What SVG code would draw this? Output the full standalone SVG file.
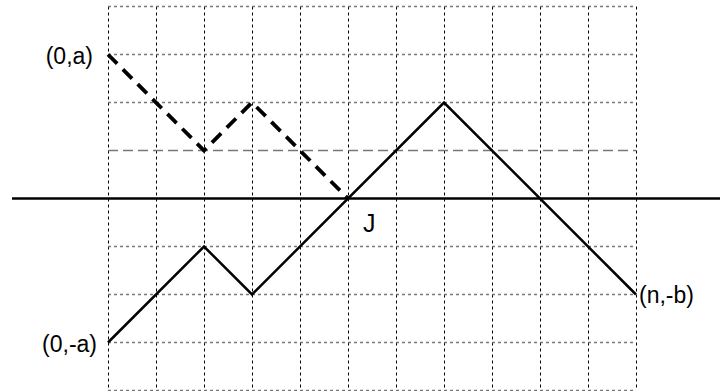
<svg xmlns="http://www.w3.org/2000/svg" width="720" height="391" viewBox="0 0 720 391">
<style>
.vg{stroke:#000;stroke-width:1;stroke-dasharray:3 3;fill:none}
.hg{stroke:#777;stroke-width:1.3;stroke-dasharray:3 3;fill:none}
.ld{stroke:#777;stroke-width:1.5;stroke-dasharray:10 5;fill:none}
.axis{stroke:#000;stroke-width:2.5;fill:none}
.dpath{stroke:#000;stroke-width:3.8;stroke-dasharray:13 8;fill:none;stroke-linejoin:miter}
.spath{stroke:#000;stroke-width:2.5;fill:none;stroke-linejoin:miter}
text{font-family:"Liberation Sans",Arial,sans-serif;font-size:23px;fill:#000}
</style>
<rect width="720" height="391" fill="#fff"/>
<g id="grid">
<path class="vg" d="M108.5 6.5V390.5M156.5 6.5V390.5M204.5 6.5V390.5M252.5 6.5V390.5M300.5 6.5V390.5M348.5 6.5V390.5M396.5 6.5V390.5M444.5 6.5V390.5M492.5 6.5V390.5M540.5 6.5V390.5M588.5 6.5V390.5M636.5 6.5V390.5"/>
<path class="hg" d="M108 6.5H636M108 54.5H636M108 102.5H636M108 246.5H636M108 294.5H636M108 342.5H636M108 390.5H636"/>
<path class="ld" d="M108 150.5H636"/>
</g>
<g id="axis">
<path class="axis" d="M12 198.5H720"/>
</g>
<g id="connectors">
<path class="dpath" d="M108 54.5L204 150.5L252 102.5L348 198.5"/>
<path class="spath" d="M108 342.5L204 246.5L252 294.5L444 102.5L636 294.5"/>
</g>
<g id="label-0a"><text x="93" y="64" text-anchor="end">(0,a)</text></g>
<g id="label-0-a"><text x="97" y="352" text-anchor="end">(0,-a)</text></g>
<g id="label-n-b"><text x="639" y="303">(n,-b)</text></g>
<g id="label-J"><text x="363" y="232" style="font-size:25px">J</text></g>
</svg>
